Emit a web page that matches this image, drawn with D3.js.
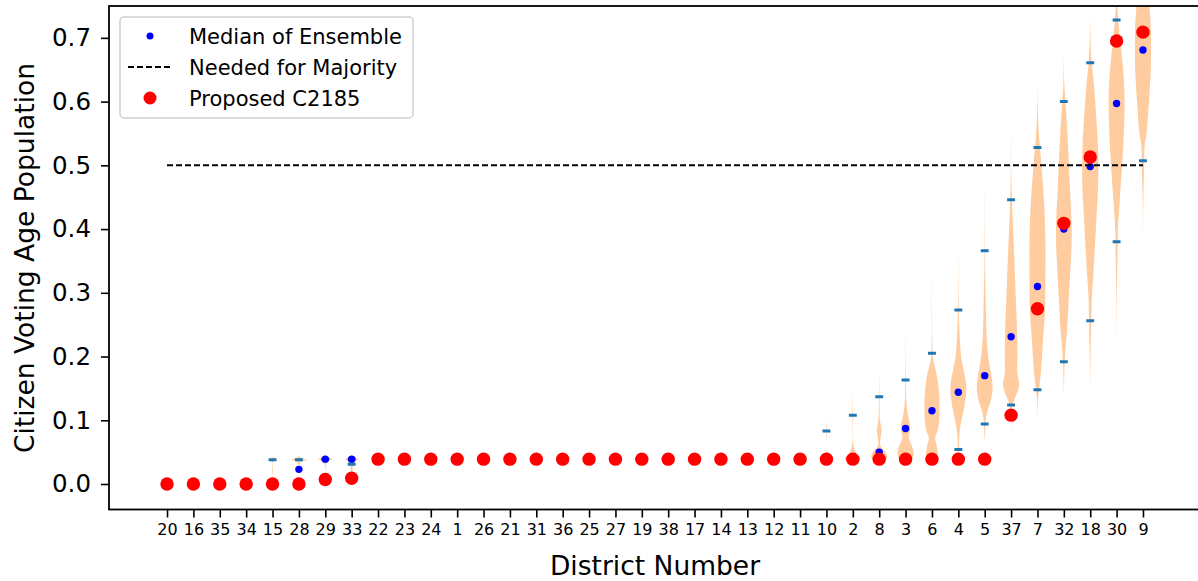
<!DOCTYPE html>
<html><head><meta charset="utf-8">
<script src="https://cdn.jsdelivr.net/npm/d3@7/dist/d3.min.js"></script>
<style>body{margin:0;background:#fff;}svg{display:block;font-family:"DejaVu Sans",sans-serif;}</style>
</head><body><svg id="c" width="1198" height="581"></svg>
<script>
const districts = ["20","16","35","34","15","28","29","33","22","23","24","1","26","21","31","36","25","27","19","38","17","14","13","12","11","10","2","8","3","6","4","5","37","7","32","18","30","9"];
const proposed = [0,0,0,0,0,0,0.007,0.009,
  0.039,0.039,0.039,0.039,0.039,0.039,0.039,0.039,0.039,0.039,0.039,0.039,0.039,0.039,0.039,0.039,
  0.039,0.039,0.039,0.039,0.039,0.039,0.039,0.039,
  0.108,0.275,0.409,0.513,0.695,0.709];
const medians = [0,0,0,0,0,0.023,0.039,0.039,
  0.039,0.039,0.039,0.039,0.039,0.039,0.039,0.039,0.039,0.039,0.039,0.039,0.039,0.039,0.039,0.039,
  0.039,0.039,0.040,0.050,0.087,0.115,0.144,0.170,
  0.231,0.310,0.400,0.498,0.597,0.681];
const ensMax = [0,0,0,0,0.038,0.038,0.039,0.039,
  0.039,0.039,0.039,0.039,0.039,0.039,0.039,0.039,0.039,0.039,0.039,0.039,0.039,0.039,0.039,0.039,
  0.045,0.083,0.108,0.137,0.163,0.205,0.273,0.366,
  0.446,0.528,0.600,0.661,0.728,0.780];
const ensMin = [0,0,0,0,0,0,0.009,0.031,
  0.039,0.039,0.039,0.039,0.039,0.039,0.039,0.039,0.039,0.039,0.039,0.039,0.039,0.039,0.039,0.039,
  0.039,0.039,0.039,0.039,0.040,0.040,0.054,0.094,
  0.124,0.148,0.192,0.256,0.380,0.507];
const majority = 0.5;
const yTicks = [0.0,0.1,0.2,0.3,0.4,0.5,0.6,0.7];
// violin profiles: [value, relative half-width]
const smallV = [[0.034,0.04],[0.037,0.4],[0.039,0.6],[0.041,0.4],[0.044,0.03]];
const violins = [
  [],[],[],[],
  [[0.0,0.05],[0.034,0.05],[0.037,0.4],[0.038,0.5],[0.040,0.3],[0.042,0.02]],
  [[0.0,0.06],[0.03,0.06],[0.035,0.3],[0.038,1.0],[0.040,0.5],[0.043,0.02]],
  [[0.008,0.05],[0.03,0.06],[0.036,0.3],[0.039,0.9],[0.042,0.3],[0.045,0.02]],
  [[0.009,0.05],[0.03,0.2],[0.036,0.5],[0.039,0.8],[0.042,0.3],[0.045,0.02]],
  smallV,smallV,smallV,smallV,smallV,smallV,smallV,smallV,smallV,smallV,smallV,smallV,smallV,smallV,smallV,smallV,
  [[0.034,0.05],[0.038,0.6],[0.041,0.5],[0.045,0.1],[0.055,0.02]],
  [[0.034,0.1],[0.039,0.6],[0.043,0.3],[0.05,0.05],[0.083,0.04],[0.1,0.01]],
  [[0.032,0.2],[0.04,1.0],[0.047,0.5],[0.06,0.1],[0.108,0.04],[0.14,0.01]],
  [[0.032,0.3],[0.042,1.0],[0.05,0.8],[0.06,0.15],[0.075,0.2],[0.085,0.3],[0.1,0.1],[0.137,0.04],[0.17,0.01]],
  [[0.03,0.3],[0.045,1.0],[0.058,0.85],[0.072,0.4],[0.08,0.5],[0.09,0.6],[0.105,0.35],[0.125,0.12],[0.163,0.04],[0.23,0.01]],
  [[0.03,0.5],[0.045,0.75],[0.06,0.6],[0.072,0.4],[0.085,0.75],[0.1,0.9],[0.13,0.95],[0.16,0.75],[0.18,0.45],[0.195,0.15],[0.22,0.05],[0.26,0.02],[0.32,0.005]],
  [[0.035,0.03],[0.05,0.06],[0.07,0.1],[0.085,0.2],[0.1,0.4],[0.12,0.75],[0.145,1.0],[0.16,0.95],[0.18,0.65],[0.2,0.35],[0.23,0.18],[0.27,0.06],[0.31,0.02],[0.36,0.005]],
  [[0.065,0.01],[0.08,0.05],[0.1,0.12],[0.115,0.35],[0.13,0.75],[0.15,1.0],[0.165,0.9],[0.18,0.7],[0.2,0.45],[0.23,0.25],[0.28,0.14],[0.33,0.06],[0.38,0.02],[0.46,0.005]],
  [[0.085,0.01],[0.11,0.05],[0.125,0.2],[0.135,0.5],[0.15,0.95],[0.16,1.0],[0.175,0.78],[0.2,0.8],[0.24,0.76],[0.29,0.6],[0.35,0.42],[0.4,0.25],[0.45,0.1],[0.49,0.03],[0.55,0.005]],
  [[0.1,0.005],[0.13,0.05],[0.15,0.2],[0.165,0.36],[0.185,0.5],[0.225,0.7],[0.27,0.95],[0.31,1.0],[0.39,1.0],[0.445,0.82],[0.5,0.5],[0.55,0.17],[0.58,0.06],[0.62,0.005]],
  [[0.14,0.005],[0.17,0.05],[0.19,0.12],[0.21,0.2],[0.24,0.4],[0.32,0.75],[0.39,1.0],[0.47,0.75],[0.55,0.45],[0.6,0.2],[0.63,0.06],[0.67,0.005]],
  [[0.16,0.005],[0.2,0.05],[0.26,0.15],[0.29,0.2],[0.34,0.45],[0.42,0.8],[0.47,1.0],[0.52,1.0],[0.58,0.75],[0.63,0.45],[0.66,0.2],[0.69,0.07],[0.73,0.005]],
  [[0.23,0.005],[0.3,0.04],[0.38,0.15],[0.395,0.15],[0.445,0.4],[0.5,0.7],[0.55,0.92],[0.61,1.0],[0.655,0.8],[0.705,0.37],[0.73,0.2],[0.76,0.05]],
  [[0.39,0.005],[0.45,0.05],[0.5,0.15],[0.53,0.2],[0.55,0.45],[0.6,0.75],[0.655,1.0],[0.71,1.0],[0.745,0.85],[0.78,0.6],[0.8,0.3]]
];

const svg = d3.select("#c");
const L = 109, T = 6, R = 1201, B = 509.5;
const x = d3.scaleLinear().domain([-1.2, 40.2]).range([L, R]);
const y = d3.scaleLinear().domain([-0.04, 0.75]).range([B, T]);
const pos = i => i + 1;
const halfW = 0.3; // units

svg.append("clipPath").attr("id","clip").append("rect")
  .attr("x", L).attr("y", T).attr("width", R - L).attr("height", B - T);
const plot = svg.append("g").attr("clip-path","url(#clip)");

// violins
const area = d3.area().curve(d3.curveCatmullRom.alpha(0.5));
violins.forEach((prof, i) => {
  if (!prof.length) return;
  const c = pos(i);
  area.y(d => y(d[0])).x0(d => x(c - d[1]*halfW)).x1(d => x(c + d[1]*halfW));
  plot.append("path").datum(prof).attr("d", area)
    .attr("fill", "#ff7f0e").attr("fill-opacity", 0.4).attr("stroke", "none");
});
// extrema bars
[ensMax, ensMin].forEach(arr => {
  plot.selectAll(null).data(arr).enter().append("line")
    .attr("x1", (d,i) => x(pos(i) - halfW/2)).attr("x2", (d,i) => x(pos(i) + halfW/2))
    .attr("y1", d => y(d)).attr("y2", d => y(d))
    .attr("stroke", "#1f77b4").attr("stroke-width", 3);
});
// medians
plot.selectAll(null).data(medians).enter().append("circle")
  .attr("cx", (d,i) => x(pos(i))).attr("cy", d => y(d)).attr("r", 3.7).attr("fill", "#0000ff");
// majority line
plot.append("line").attr("x1", x(1)).attr("x2", x(districts.length))
  .attr("y1", y(majority)).attr("y2", y(majority))
  .attr("stroke", "#000").attr("stroke-width", 2).attr("stroke-dasharray", "6,3");
// proposed
plot.selectAll(null).data(proposed).enter().append("circle")
  .attr("cx", (d,i) => x(pos(i))).attr("cy", d => y(d)).attr("r", 6.7).attr("fill", "#ff0000");

// axes
const xAxis = d3.axisBottom(x).tickValues(districts.map((d,i)=>pos(i)))
  .tickFormat((d,i)=>districts[i]).tickSize(8).tickPadding(6);
const gx = svg.append("g").attr("transform", `translate(0,${B})`).call(xAxis);
gx.select(".domain").remove();
gx.selectAll("text").attr("font-size", 16).attr("font-family","DejaVu Sans").attr("fill","#000");
gx.selectAll("line").attr("stroke-width", 1.6);

const yAxis = d3.axisLeft(y).tickValues(yTicks).tickFormat(d3.format(".1f")).tickSize(8).tickPadding(10);
const gy = svg.append("g").attr("transform", `translate(${L},0)`).call(yAxis);
gy.select(".domain").remove();
gy.selectAll("text").attr("font-size", 24.5).attr("font-family","DejaVu Sans").attr("fill","#000");
gy.selectAll("line").attr("stroke-width", 1.6);

svg.append("rect").attr("x", L).attr("y", T).attr("width", R - L).attr("height", B - T)
  .attr("fill","none").attr("stroke","#000").attr("stroke-width",1.8);

svg.append("text").attr("x", 655).attr("y", 575).attr("text-anchor","middle")
  .attr("font-size", 26.5).text("District Number");
svg.append("text").attr("transform", "translate(34,258) rotate(-90)").attr("text-anchor","middle")
  .attr("font-size", 26.5).text("Citizen Voting Age Population");

// legend
const lg = svg.append("g");
lg.append("rect").attr("x", 120).attr("y", 17).attr("width", 293).attr("height", 101)
  .attr("rx", 4).attr("fill","#fff").attr("fill-opacity",0.8).attr("stroke","#d0d0d0").attr("stroke-width",1.5);
const rows = [36, 67, 98];
lg.append("circle").attr("cx",150).attr("cy",rows[0]).attr("r",3.5).attr("fill","#0000ff");
lg.append("line").attr("x1",128).attr("x2",171).attr("y1",rows[1]).attr("y2",rows[1])
  .attr("stroke","#000").attr("stroke-width",2).attr("stroke-dasharray","6,3");
lg.append("circle").attr("cx",150).attr("cy",rows[2]).attr("r",6.5).attr("fill","#ff0000");
const labels = ["Median of Ensemble","Needed for Majority","Proposed C2185"];
labels.forEach((t,i)=>{
  lg.append("text").attr("x",189).attr("y",rows[i]).attr("dy","0.36em").attr("font-size",21).text(t);
});
</script></body></html>
